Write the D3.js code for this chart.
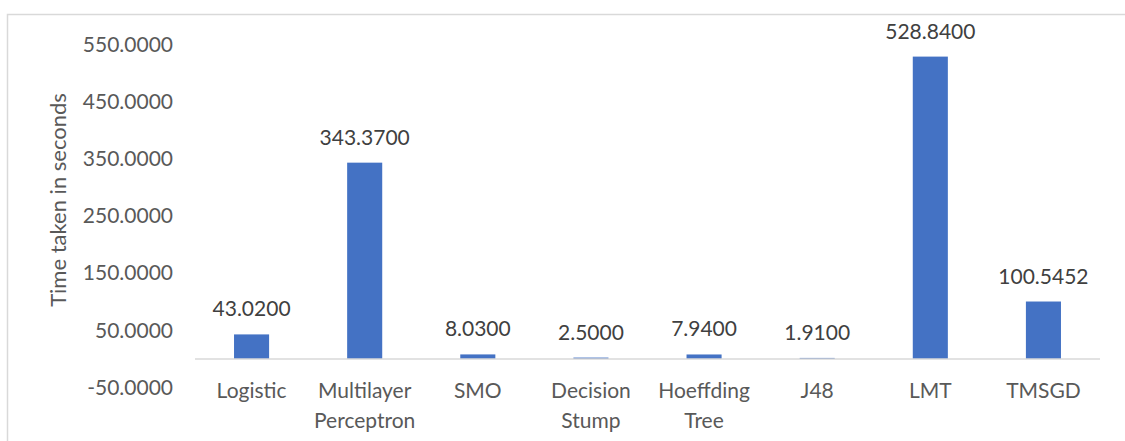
<!DOCTYPE html>
<html>
<head>
<meta charset="utf-8">
<script src="https://cdn.jsdelivr.net/npm/d3@7"></script>
<style>
  html, body { margin: 0; padding: 0; background: #fff; }
  svg { display: block; font-family: Lato, "Open Sans", sans-serif; }
</style>
</head>
<body>
<svg id="chart" width="1125" height="441"></svg>
<script>
// Training time per classifier
const categories = [
  ["Logistic"],
  ["Multilayer", "Perceptron"],
  ["SMO"],
  ["Decision", "Stump"],
  ["Hoeffding", "Tree"],
  ["J48"],
  ["LMT"],
  ["TMSGD"]
];
const times = [43.02, 343.37, 8.03, 2.5, 7.94, 1.91, 528.84, 100.5452];
const yTicks = [-50, 50, 150, 250, 350, 450, 550];

// four decimals, plain hyphen for negatives
const fmt = d => d.toFixed(4);

const svg = d3.select("#chart");

// chart frame
svg.append("path")
  .attr("d", "M7.5,441 V14.5 H1125")
  .attr("fill", "none")
  .attr("stroke", "#d9d9d9")
  .attr("stroke-width", 1.5);

const x = d3.scaleBand()
  .domain(d3.range(categories.length))
  .range([195, 1100])
  .paddingInner(0.69)
  .paddingOuter(0.345);

const y = d3.scaleLinear()
  .domain([-50, 550])
  .range([387.6, 44.5]);

// y-axis tick labels (no axis line)
const yAxis = d3.axisLeft(y)
  .tickValues(yTicks)
  .tickSize(0)
  .tickPadding(0)
  .tickFormat(fmt);
const ya = svg.append("g")
  .attr("transform", "translate(173,0)")
  .call(yAxis);
ya.select(".domain").remove();
ya.selectAll("text")
  .attr("font-family", "Lato, 'Open Sans', sans-serif")
  .attr("font-size", 21)
  .attr("fill", "#595959");

// bars
svg.append("g")
  .selectAll("rect")
  .data(times)
  .join("rect")
  .attr("x", (d, i) => x(i))
  .attr("width", x.bandwidth())
  .attr("y", d => y(d))
  .attr("height", d => y(0) - y(d))
  .attr("fill", "#4472c4");

// category baseline
svg.append("line")
  .attr("x1", 195).attr("x2", 1100)
  .attr("y1", y(0)).attr("y2", y(0))
  .attr("stroke", "#d9d9d9")
  .attr("stroke-width", 1.5);

// value labels
svg.append("g")
  .selectAll("text")
  .data(times)
  .join("text")
  .attr("x", (d, i) => x(i) + x.bandwidth() / 2)
  .attr("y", d => y(d) - 18)
  .attr("text-anchor", "middle")
  .attr("font-size", 21)
  .attr("fill", "#404040")
  .text(fmt);

// category labels
const cat = svg.append("g")
  .selectAll("text")
  .data(categories)
  .join("text")
  .attr("x", (d, i) => x(i) + x.bandwidth() / 2)
  .attr("y", 398)
  .attr("text-anchor", "middle")
  .attr("font-size", 21)
  .attr("fill", "#595959");
cat.selectAll("tspan")
  .data(d => d)
  .join("tspan")
  .attr("x", function () { return d3.select(this.parentNode).attr("x"); })
  .attr("dy", (d, i) => i === 0 ? 0 : 29.5)
  .text(d => d);

// y-axis title
svg.append("text")
  .attr("transform", "translate(66,200) rotate(-90)")
  .attr("text-anchor", "middle")
  .attr("font-size", 22)
  .attr("fill", "#595959")
  .text("Time taken in seconds");
</script>
</body>
</html>
